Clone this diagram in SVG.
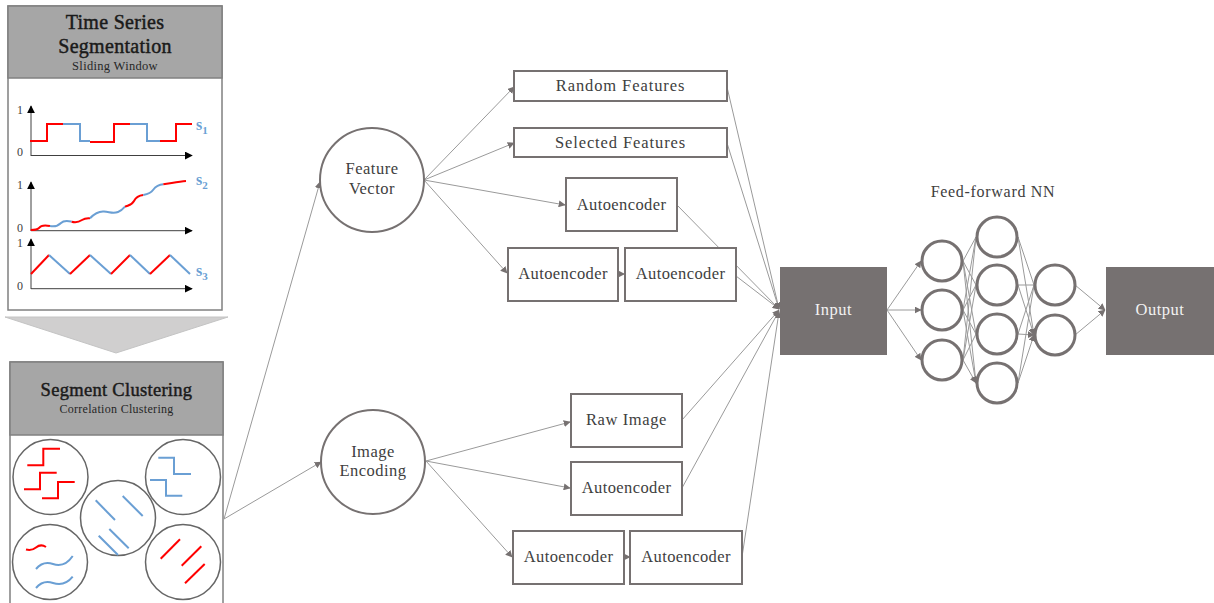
<svg xmlns="http://www.w3.org/2000/svg" width="1214" height="603" viewBox="0 0 1214 603">
<defs>
<marker id="ah" viewBox="0 0 10 10" refX="9" refY="5" markerWidth="7" markerHeight="7" markerUnits="userSpaceOnUse" orient="auto"><path d="M0,0 L10,5 L0,10 z" fill="#767171"/></marker>
<marker id="axh" viewBox="0 0 10 10" refX="9" refY="5" markerWidth="8" markerHeight="8" markerUnits="userSpaceOnUse" orient="auto"><path d="M0,0 L10,5 L0,10 z" fill="#000"/></marker>
<style>
.t{font-family:"Liberation Serif","DejaVu Serif",serif;fill:#404040;text-anchor:middle}
.box{fill:#fff;stroke:#767171;stroke-width:2}
.nd{fill:#fff;stroke:#767171;stroke-width:2}
.nn{fill:#fff;stroke:#767171;stroke-width:3}
.dark{fill:#767171}
.con{stroke:#9a9a9a;stroke-width:1;fill:none}
.arr{stroke:#9a9a9a;stroke-width:1;fill:none;marker-end:url(#ah)}
.ax{stroke:#404040;stroke-width:1;fill:none;marker-end:url(#axh)}
.r{stroke:#ff0000;stroke-width:2;fill:none}
.b{stroke:#6a9fd4;stroke-width:2;fill:none}
.cl{fill:#fff;stroke:#666;stroke-width:1.5}
.hd{fill:#a6a6a6;stroke:#808080;stroke-width:1.5}
.lab{font-family:"Liberation Serif","DejaVu Serif",serif;fill:#404040;font-size:12px;text-anchor:middle}
.sl{font-family:"Liberation Serif","DejaVu Serif",serif;fill:#6a9fd4;font-size:16px;font-weight:bold}
.ht{fill:#1a1a1a;stroke:#1a1a1a;stroke-width:0.45}
</style>
</defs>

<!-- Left panel: Time Series Segmentation -->
<g id="segmentation">
<rect x="8" y="6" width="214" height="304" fill="#fff" stroke="#808080" stroke-width="1.5"/>
<rect class="hd" x="8" y="6" width="214" height="72"/>
<text class="t ht" x="115" y="29" font-size="20" letter-spacing="0.3">Time Series</text>
<text class="t ht" x="115" y="53" font-size="20" letter-spacing="0.3">Segmentation</text>
<text class="t" x="115" y="70" font-size="12.5" letter-spacing="0.3" style="fill:#262626">Sliding Window</text>
<!-- chart 1 -->
<path class="ax" d="M31,156 V106"/>
<path class="ax" d="M31,155.5 H192"/>
<text class="lab" x="20" y="114">1</text>
<text class="lab" x="20" y="156">0</text>
<path class="r" d="M30,141 H47 V124 H63"/>
<path class="b" d="M63,124 H80 V141 H90"/>
<path class="r" d="M90,142 H114 V124 H130"/>
<path class="b" d="M130,124 H147 V141 H160"/>
<path class="r" d="M160,141 H176 V124 H192"/>
<text class="sl" x="196" y="130">s<tspan font-size="11" dy="4">1</tspan></text>
<!-- chart 2 -->
<path class="ax" d="M31,231 V182"/>
<path class="ax" d="M31,230.7 H192"/>
<text class="lab" x="20" y="189">1</text>
<text class="lab" x="20" y="232">0</text>
<path class="r" d="M30.7,230 C35,230 37,230 39,228 C41,225 45,225 50,226"/>
<path class="b" d="M50,226 C55,227 58,226 61,223 C64,220 68,221 71.7,221.7"/>
<path class="r" d="M71.7,221.7 C76,223 79,222 82,220 C85,218 87,218 90,218.3"/>
<path class="b" d="M90,218.3 C94,214 98,211 104,211.5 C110,212 113,214 118,212 C121,211 123,209 125,206.7"/>
<path class="r" d="M125,206.7 C129,205 132,205 134,201 C136,197 139,195.5 143.3,195"/>
<path class="b" d="M143.3,195 C148,194 151,193 153,190 C156,186 159,184.5 163.3,184.3"/>
<path class="r" d="M163.3,184.3 C170,183.5 178,181.5 186,181"/>
<text class="sl" x="196" y="185">s<tspan font-size="11" dy="4">2</tspan></text>
<!-- chart 3 -->
<path class="ax" d="M31,289 V239"/>
<path class="ax" d="M31,288.7 H192"/>
<text class="lab" x="20" y="247">1</text>
<text class="lab" x="20" y="290">0</text>
<path class="r" d="M31,274 L49,255"/>
<path class="b" d="M49,255 L70,274"/>
<path class="r" d="M70,274 L90,255"/>
<path class="b" d="M90,255 L111,274"/>
<path class="r" d="M111,274 L130,255"/>
<path class="b" d="M130,255 L150,274"/>
<path class="r" d="M150,274 L170,255"/>
<path class="b" d="M170,255 L190,274"/>
<text class="sl" x="196" y="276">s<tspan font-size="11" dy="4">3</tspan></text>
</g>

<!-- chevron arrow -->
<g id="chevron">
<polygon points="5,317 228,317 116,353" fill="#d0cfcf" stroke="#c4c4c4" stroke-width="1"/>
</g>

<!-- Segment clustering panel -->
<g id="clustering">
<rect x="10" y="362" width="213" height="250" fill="#fff" stroke="#808080" stroke-width="1.5"/>
<rect class="hd" x="10" y="362" width="213" height="73"/>
<text class="t ht" x="116.5" y="396" font-size="18.5" letter-spacing="0.3">Segment Clustering</text>
<text class="t" x="116.5" y="413" font-size="12" letter-spacing="0.3" style="fill:#262626">Correlation Clustering</text>
<circle class="cl" cx="50.5" cy="477" r="37.5"/>
<circle class="cl" cx="183" cy="477" r="37.5"/>
<circle class="cl" cx="118" cy="518" r="37.5"/>
<circle class="cl" cx="50" cy="562" r="37.5"/>
<circle class="cl" cx="183" cy="562" r="37.5"/>
<path class="r" d="M27.3,465.3 H43.3 V448.7 H60"/>
<path class="r" d="M24,489.3 H40 V472.7 H56.7"/>
<path class="r" d="M42,498.3 H58 V482 H74.7"/>
<path class="b" d="M158.3,457.7 H174 V474 H191"/>
<path class="b" d="M150,480 H166 V495.7 H182.3"/>
<path class="b" d="M95.7,500.3 L115,520"/>
<path class="b" d="M122.7,496 L142.7,516"/>
<path class="b" d="M109.3,529 L128.7,548.3"/>
<path class="b" d="M98.7,535.7 L118,555"/>
<path class="r" d="M26,549.5 C30,550.5 33,550 36,547.5 C39,545 43,545 46,547"/>
<path class="b" d="M36,569 C41,563 47,562 53,564 C59,566 66,566 72.7,556"/>
<path class="b" d="M36,588 C41,582 47,581 53,583 C59,585 66,585 72.7,576.7"/>
<path class="r" d="M160.7,558.7 L180,539.3"/>
<path class="r" d="M181.7,565.7 L201.3,546.3"/>
<path class="r" d="M185,583.3 L204.7,564"/>
</g>

<!-- connectors -->
<g id="connectors">
<path class="arr" d="M224,519 L320,182"/>
<path class="arr" d="M224,519 L321,462"/>
<path class="arr" d="M424,180 L514,87"/>
<path class="arr" d="M424,180 L514,143"/>
<path class="arr" d="M424,180 L565,205"/>
<path class="arr" d="M424,180 L507,273"/>
<path class="arr" d="M618.5,274 L624.5,274"/>
<path class="arr" d="M426,461 L570,422"/>
<path class="arr" d="M426,461 L570,488"/>
<path class="arr" d="M426,461 L512,557"/>
<path class="arr" d="M624.5,557 L630,557"/>
<path class="arr" d="M727,87 L779,309"/>
<path class="arr" d="M727,143 L779,309"/>
<path class="arr" d="M677,205 L779,309"/>
<path class="arr" d="M736,276 L779,309"/>
<path class="arr" d="M682,420 L779,310"/>
<path class="arr" d="M682,488 L779,311"/>
<path class="arr" d="M742,557 L779,312"/>
<!-- NN -->
<path class="arr" d="M887,310 L921,261"/>
<path class="arr" d="M887,310 L921,310"/>
<path class="arr" d="M887,310 L921,360"/>
<path class="arr" d="M963,261 L976,237 M963,261 L976,285 M963,261 L976,334 M963,261 L976,383"/>
<path class="arr" d="M963,310 L976,237 M963,310 L976,285 M963,310 L976,334 M963,310 L976,383"/>
<path class="arr" d="M963,360 L976,237 M963,360 L976,285 M963,360 L976,334 M963,360 L976,383"/>
<path class="arr" d="M1018,237 L1034,285 M1018,237 L1034,335"/>
<path class="arr" d="M1018,285 L1034,285 M1018,285 L1034,335"/>
<path class="arr" d="M1018,334 L1034,285 M1018,334 L1034,335"/>
<path class="arr" d="M1018,383 L1034,285 M1018,383 L1034,335"/>
<path class="arr" d="M1075,285 L1105,310"/>
<path class="arr" d="M1075,335 L1105,310"/>
</g>

<g id="feature-vector"><circle class="nd" cx="372" cy="180" r="52"/>
<text class="t" x="372" y="174" font-size="16.5" letter-spacing="0.5">Feature</text><text class="t" x="372" y="194" font-size="16.5" letter-spacing="0.5">Vector</text></g>
<g id="image-encoding"><circle class="nd" cx="373" cy="462" r="52"/>
<text class="t" x="373" y="457" font-size="16.5" letter-spacing="0.5">Image</text><text class="t" x="373" y="476" font-size="16.5" letter-spacing="0.5">Encoding</text></g>

<g id="random-features"><rect class="box" x="514" y="71" width="213" height="30"/><text class="t" x="620.5" y="91" font-size="16.5" letter-spacing="0.9">Random Features</text></g>
<g id="selected-features"><rect class="box" x="514" y="128" width="213" height="29"/><text class="t" x="620.5" y="148" font-size="16.5" letter-spacing="0.9">Selected Features</text></g>
<g id="ae1"><rect class="box" x="566" y="178" width="111" height="53"/><text class="t" x="621.5" y="210" font-size="16.5" letter-spacing="0.4">Autoencoder</text></g>
<g id="ae2a"><rect class="box" x="508" y="248" width="110" height="53"/><text class="t" x="563" y="279" font-size="16.5" letter-spacing="0.4">Autoencoder</text></g>
<g id="ae2b"><rect class="box" x="625" y="248" width="111" height="53"/><text class="t" x="680.5" y="279" font-size="16.5" letter-spacing="0.4">Autoencoder</text></g>
<g id="raw-image"><rect class="box" x="571" y="394" width="111" height="53"/><text class="t" x="626.5" y="425" font-size="16.5" letter-spacing="0.6">Raw Image</text></g>
<g id="ae3"><rect class="box" x="571" y="462" width="111" height="53"/><text class="t" x="626.5" y="493" font-size="16.5" letter-spacing="0.4">Autoencoder</text></g>
<g id="ae4a"><rect class="box" x="513" y="531" width="111" height="53"/><text class="t" x="568.5" y="562" font-size="16.5" letter-spacing="0.4">Autoencoder</text></g>
<g id="ae4b"><rect class="box" x="630" y="531" width="112" height="53"/><text class="t" x="686" y="562" font-size="16.5" letter-spacing="0.4">Autoencoder</text></g>

<g id="input"><rect class="dark" x="780" y="267" width="107" height="88"/><text class="t" x="833.5" y="315" font-size="16.5" letter-spacing="0.5" style="fill:#f2f2f2">Input</text></g>
<g id="output"><rect class="dark" x="1106" y="267" width="108" height="88"/><text class="t" x="1160" y="315" font-size="16.5" letter-spacing="0.5" style="fill:#f2f2f2">Output</text></g>

<g id="nn">
<text class="t" x="993" y="197" font-size="16" letter-spacing="0.7">Feed-forward NN</text>
<circle class="nn" cx="942" cy="261" r="20"/>
<circle class="nn" cx="942" cy="310" r="20"/>
<circle class="nn" cx="942" cy="360" r="20"/>
<circle class="nn" cx="997" cy="237" r="20"/>
<circle class="nn" cx="997" cy="285" r="20"/>
<circle class="nn" cx="997" cy="334" r="20"/>
<circle class="nn" cx="997" cy="383" r="20"/>
<circle class="nn" cx="1055" cy="285" r="20"/>
<circle class="nn" cx="1055" cy="335" r="20"/>
</g>
</svg>
